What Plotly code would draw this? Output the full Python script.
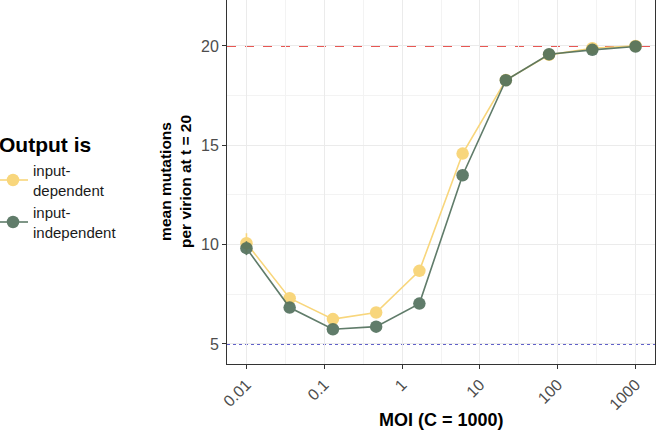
import plotly.graph_objects as go

moi = [0.01, 0.0359, 0.1292, 0.4642, 1.668, 5.995, 21.54, 77.43, 278.3, 1000]
dep_mean = [10.07, 7.30, 6.25, 6.58, 8.68, 14.58, 18.28, 19.55, 19.88, 20.0]
dep_err = [0.5, 0.2, 0.15, 0.15, 0.15, 0.15, 0.1, 0.08, 0.08, 0.05]
ind_mean = [9.82, 6.83, 5.74, 5.87, 7.03, 13.49, 18.27, 19.58, 19.80, 19.97]
ind_err = [0.35, 0.25, 0.2, 0.15, 0.15, 0.15, 0.1, 0.08, 0.08, 0.05]
xticks = [0.01, 0.1, 1, 10, 100, 1000]
xticklabels = ["0.01", "0.1", "1", "10", "100", "1000"]
xminor = [10 ** (-1.5), 10 ** (-0.5), 10 ** 0.5, 10 ** 1.5, 10 ** 2.5]
yticks = [5, 10, 15, 20]
yminor = [7.5, 12.5, 17.5]
upper_ref = 20
lower_ref = 5

YELLOW = "#F8D67C"
GREEN = "#4F6E5A"
FONT = "Liberation Sans, Arial, sans-serif"

W, H = 657, 438
ML, MR, MT, MB = 227, 2, 0, 74
PW, PH = W - ML - MR, H - MT - MB


def px_x(p):
    return (p - ML) / PW


def px_y(p):
    return 1 - (p - MT) / PH


fig = go.Figure()
fig.add_trace(go.Scatter(
    x=moi, y=dep_mean, mode="lines+markers", name="input-<br>dependent",
    line=dict(color=YELLOW, width=1.6),
    marker=dict(color=YELLOW, size=12.5),
    error_y=dict(type="data", array=dep_err, color=YELLOW, width=0, thickness=1.6),
))
fig.add_trace(go.Scatter(
    x=moi, y=ind_mean, mode="lines+markers", name="input-<br>independent",
    line=dict(color=GREEN, width=1.6),
    marker=dict(color=GREEN, size=12.5),
    opacity=0.9,
    error_y=dict(type="data", array=ind_err, color=GREEN, width=0, thickness=1.6),
))

fig.add_hline(y=upper_ref, line=dict(color="#E0201B", width=1.8, dash="dash"), layer="below")
fig.add_hline(y=lower_ref, line=dict(color="#2E2EB8", width=1.8, dash="dot"), layer="below")

fig.update_layout(
    width=W, height=H,
    margin=dict(l=ML, r=MR, t=MT, b=MB, autoexpand=False),
    paper_bgcolor="white", plot_bgcolor="white",
    font=dict(family=FONT, color="#000"),
    showlegend=True,
    legend=dict(
        x=px_x(-7), xanchor="left", y=px_y(154), yanchor="top",
        font=dict(size=15, family=FONT, color="#1a1a1a"),
        itemwidth=30,
        bgcolor="rgba(0,0,0,0)",
    ),
    xaxis=dict(
        type="log", range=[-2.25, 3.25],
        tickvals=xticks, ticktext=xticklabels, tickangle=-45,
        ticks="outside", ticklen=4, tickcolor="#333", tickwidth=1,
        tickfont=dict(size=16, color="#4D4D4D", family=FONT),
        showgrid=True, gridcolor="#EBEBEB", gridwidth=1.2,
        minor=dict(tickmode="array", tickvals=xminor, showgrid=True, gridcolor="#F3F3F3", gridwidth=0.8, ticks=""),
        showline=True, linecolor="#333", linewidth=1, mirror=True,
        zeroline=False,
    ),
    yaxis=dict(
        range=[3.99, 22.31],
        tickvals=yticks, ticks="outside", ticklen=4, tickcolor="#333", tickwidth=1,
        tickfont=dict(size=16, color="#4D4D4D", family=FONT),
        showgrid=True, gridcolor="#EBEBEB", gridwidth=1.2,
        minor=dict(tickmode="array", tickvals=yminor, showgrid=True, gridcolor="#F3F3F3", gridwidth=0.8, ticks=""),
        showline=True, linecolor="#333", linewidth=1, mirror=True,
        zeroline=False,
    ),
    annotations=[
        dict(
            text="<b>mean mutations<br>per virion at t = 20</b>",
            textangle=-90, xref="paper", yref="paper",
            x=px_x(175), y=px_y(182), xanchor="center", yanchor="middle",
            showarrow=False, font=dict(size=15.5, family=FONT, color="#000"),
        ),
        dict(
            text="<b>MOI (C = 1000)</b>",
            xref="paper", yref="paper",
            x=px_x(441), y=px_y(420), xanchor="center", yanchor="middle",
            showarrow=False, font=dict(size=18, family=FONT, color="#000"),
        ),
        dict(
            text="<b>Output is</b>",
            xref="paper", yref="paper",
            x=px_x(-3), y=px_y(145), xanchor="left", yanchor="middle",
            showarrow=False, font=dict(size=21, family=FONT, color="#000"),
        ),
    ],
)

fig.write_html("out.html", config={"displayModeBar": False},
               post_script="document.body.style.margin='0';")
